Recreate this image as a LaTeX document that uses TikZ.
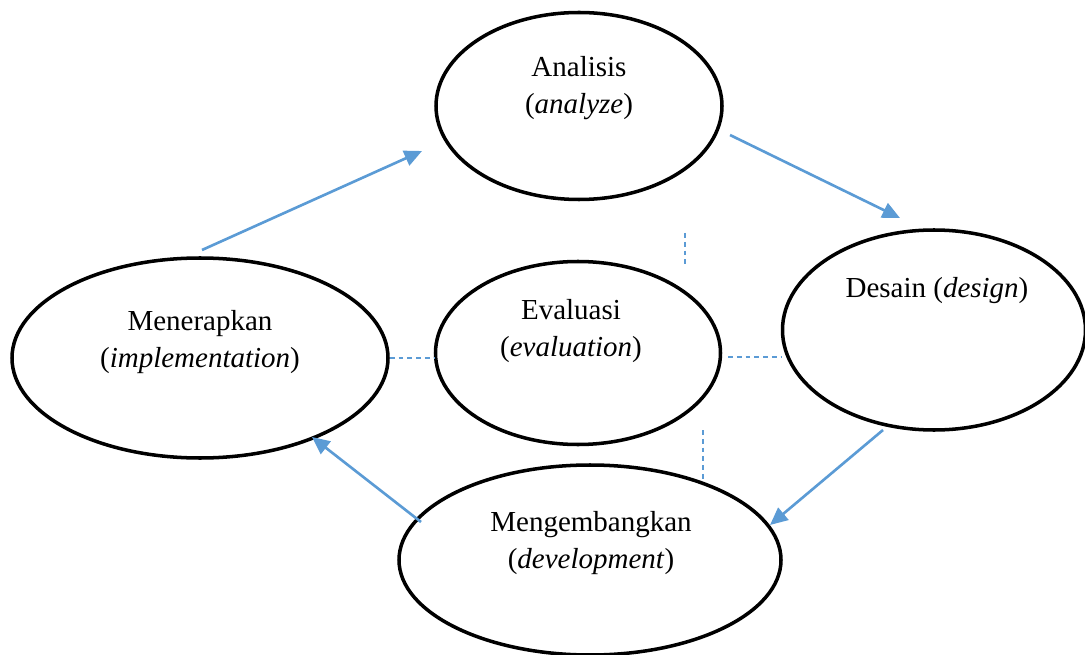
\documentclass[tikz,border=0pt]{standalone}
\usepackage{fontspec}
\setmainfont{Liberation Serif}
\usetikzlibrary{shapes.geometric, arrows.meta, positioning, calc}
\definecolor{flowblue}{RGB}{91, 155, 213}

\tikzset{
  phase/.style={draw=black, line width=2pt, ellipse, inner sep=0pt},
  phasetext/.style={font=\fontsize{16.5}{21.5}\selectfont, align=center, inner sep=0pt},
  flow/.style={draw=flowblue, line width=1.5pt, -{Triangle[length=10pt, width=9pt]}},
  link/.style={draw=flowblue, line width=0.7pt, dash pattern=on 2.8pt off 2.2pt}
}

\begin{document}
\begin{tikzpicture}[x=0.02cm, y=-0.02cm]
  \useasboundingbox (0,0) rectangle (1085,655);

  % phases
  \node[phase, minimum width=286*0.02cm, minimum height=187*0.02cm] (ana) at (579,106) {};
  \node[phase, minimum width=303*0.02cm, minimum height=200*0.02cm] (des) at (934,330) {};
  \node[phase, minimum width=285*0.02cm, minimum height=183*0.02cm] (eva) at (578,353) {};
  \node[phase, minimum width=376*0.02cm, minimum height=200*0.02cm] (men) at (200,358) {};
  \node[phase, minimum width=382*0.02cm, minimum height=190*0.02cm] (dev) at (590,560) {};

  % labels
  \node[phasetext] (anatext) at (579,88) {Analisis\\(\textit{analyze})};
  \node[phasetext] (destext) at (937,291) {Desain (\textit{design})};
  \node[phasetext] (evatext) at (571,331) {Evaluasi\\(\textit{evaluation})};
  \node[phasetext] (mentext) at (200,342) {Menerapkan\\(\textit{implementation})};
  \node[phasetext] (devtext) at (591,543) {Mengembangkan\\(\textit{development})};

  % arrow ends
  \coordinate (a1) at (202,250);
  \coordinate (a2) at (422,151);
  \coordinate (b1) at (730,135);
  \coordinate (b2) at (900,218);
  \coordinate (c1) at (883,430);
  \coordinate (c2) at (770,525);
  \coordinate (d1) at (421,522);
  \coordinate (d2) at (312,437);

  \draw[flow] (a1) -- (a2);
  \draw[flow] (b1) -- (b2);
  \draw[flow] (c1) -- (c2);
  \draw[flow] (d1) -- (d2);

  % dashed links to evaluation
  \coordinate (e1) at (685,233);
  \coordinate (e2) at (685,268);
  \coordinate (f1) at (703,430);
  \coordinate (f2) at (703,480);
  \coordinate (g1) at (728,357);
  \coordinate (g2) at (782,357);
  \draw[link] (e1) -- (e2);
  \draw[link] (f1) -- (f2);
  \draw[link] (men.east) -- (men.east -| eva.west);
  \draw[link] (g1) -- (g2);
\end{tikzpicture}
\end{document}
